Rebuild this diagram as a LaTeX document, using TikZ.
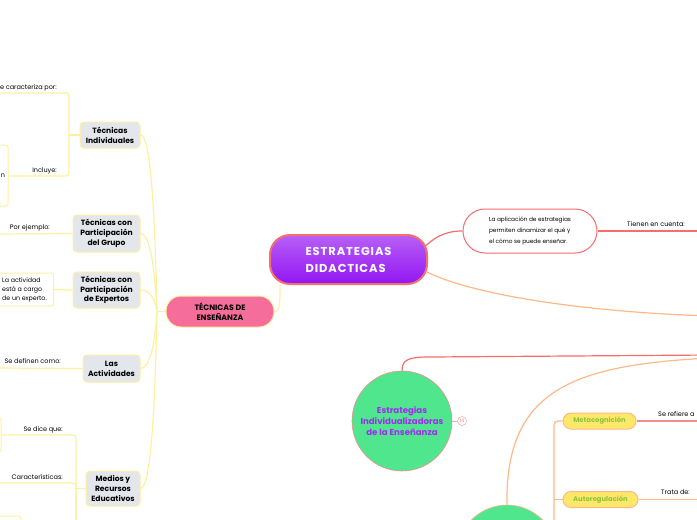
\documentclass[tikz,border=0pt]{standalone}
\usepackage{fontspec}
\setmainfont{Poppins}
\newfontfamily\widefont[LetterSpace=8]{Poppins}
\usetikzlibrary{positioning}
\definecolor{ylw}{HTML}{FFF0A0}
\definecolor{rd}{HTML}{F56E6E}
\definecolor{org}{HTML}{FFB888}
\definecolor{tgray}{HTML}{E3E6EA}
\definecolor{pnk}{HTML}{F46D9B}
\definecolor{grn}{HTML}{50E68E}
\definecolor{prp}{HTML}{9F2CF2}
\definecolor{olv}{HTML}{8CC43C}
\definecolor{mtyel}{HTML}{FFE869}
\definecolor{estrtop}{HTML}{B85FF7}
\definecolor{estrbot}{HTML}{9216F2}
\tikzset{
  ylwline/.style={draw=ylw, line width=1.2pt},
  rdline/.style={draw=rd, line width=1.2pt},
  orgline/.style={draw=org, line width=1.2pt},
  tecbox/.style={draw=ylw, fill=tgray, line width=1pt, rounded corners=4pt,
    align=center, inner sep=0pt, font=\fontsize{7.6}{9.8}\selectfont\bfseries},
  labeltxt/.style={inner sep=0pt, font=\fontsize{6.5}{8}\selectfont},
  leafbox/.style={draw=ylw, fill=white, line width=1pt, rounded corners=2pt, inner sep=0pt},
  pillbox/.style={draw=org, fill=mtyel, line width=1pt, rounded corners=8pt,
    inner sep=0pt, minimum height=16pt, text=olv, font=\fontsize{6.8}{8}\selectfont\bfseries},
  roundnode/.style={circle, fill=grn, minimum size=100pt, inner sep=0pt, align=center,
    text=prp, font=\fontsize{8.6}{10.8}\selectfont\bfseries}
}
\begin{document}
\begin{tikzpicture}[x=1pt, y=-1pt]
\clip (0,0) rectangle (697,520);
\fill[white] (0,0) rectangle (697,520);
% main nodes
\node[draw=rd, line width=2pt, top color=estrtop, bottom color=estrbot,
  rounded corners=20pt, minimum width=157pt, minimum height=49pt, inner sep=0pt,
  text=white, align=left, font=\fontsize{11.5}{17}\widefont\bfseries] (estr) at (348.5,259.5) {ESTRATEGIAS\\DIDACTICAS};
\node[draw=ylw, fill=pnk, line width=1pt, rounded corners=15pt, minimum width=108pt, minimum height=31pt,
  align=center, inner sep=0pt, font=\fontsize{7.8}{10}\selectfont\bfseries] (tecn) at (220,311.5) {TÉCNICAS DE\\ENSEÑANZA};
\node[draw=rd, fill=white, line width=1pt, rounded corners=22pt, minimum width=134pt, minimum height=44pt,
  inner sep=0pt, align=left, font=\fontsize{5.8}{11.3}\selectfont] (aplic) at (530,231) {La aplicación de estrategias\\permiten dinamizar el qué y\\el cómo se puede enseñar.};

% tecnicas
\node[tecbox, minimum width=60pt, minimum height=26pt] (indiv) at (110,135) {Técnicas\\Individuales};
\node[tecbox, minimum width=67pt, minimum height=37pt] (grupo) at (106.5,233.5) {Técnicas con\\Participación\\del Grupo};
\node[tecbox, minimum width=67pt, minimum height=36pt] (exper) at (106.5,290) {Técnicas con\\Participación\\de Expertos};
\node[tecbox, minimum width=57pt, minimum height=27pt] (activ) at (111.5,368.5) {Las\\Actividades};
\node[tecbox, minimum width=54pt, minimum height=35pt] (medio) at (113,488.5) {Medios y\\Recursos\\Educativos};

\coordinate (hub) at (157,311.5);
\draw[ylwline] (estr.south west) ++(11,0) coordinate (estrsw);
\draw[ylwline] (estrsw) .. controls +(0,14) and +(6,0) .. (tecn.east);
\draw[ylwline] (tecn.west) -- (hub);
\draw[ylwline] (indiv.east) .. controls +(10,0) and +(-2,-100) .. (hub);
\draw[ylwline] (grupo.east) .. controls +(10,0) and +(-2,-40) .. (hub);
\draw[ylwline] (exper.east) .. controls +(10,0) and +(-2,-12) .. (hub);
\draw[ylwline] (activ.east) .. controls +(10,0) and +(-2,30) .. (hub);
\draw[ylwline] (medio.east) .. controls +(10,0) and +(-2,100) .. (hub);

% individuales
\coordinate (indtop) at (-5,93);
\coordinate (indbot) at (69,176);
\node[leafbox, minimum width=70pt, minimum height=61pt, text width=64pt, align=right,
  font=\fontsize{6.5}{8}\selectfont] (incbox) at (-27,175.5) {n};
\draw[ylwline, rounded corners=3pt] (indtop) -| (indbot) -- (incbox.east |- indbot);
\draw[ylwline] (indiv.west) -- (indiv.west -| indbot);
\node[labeltxt, anchor=base east] at (57,89) {Se caracteriza por:};
\node[labeltxt, anchor=base east] at (57,172) {Incluye:};

% grupo, expertos, actividades
\coordinate (grpend) at (-5,234);
\draw[ylwline] (grupo.west) -- (grpend);
\node[labeltxt, anchor=base east] at (50,229) {Por ejemplo:};
\node[leafbox, minimum width=58pt, minimum height=33pt, align=left, inner sep=0pt,
  font=\fontsize{6.3}{9}\selectfont] (expbox) at (24.5,289.5) {La actividad\\está a cargo\\de un experto.};
\draw[ylwline] (exper.west) -- (expbox.east);
\coordinate (actend) at (-5,368);
\draw[ylwline] (activ.west) -- (actend);
\node[labeltxt, anchor=base east] at (61,363.5) {Se definen como:};

% medios
\node[leafbox, minimum width=40pt, minimum height=34pt] (dicebox) at (-19,435) {};
\node[leafbox, minimum width=40pt, minimum height=34pt] (carbox) at (0.5,533) {};
\coordinate (medbr) at (76,530);
\coordinate (carend) at (-5,483);
\draw[ylwline, rounded corners=3pt] (dicebox.east) -| (medbr);
\draw[ylwline, rounded corners=3pt] (carend) -| (medbr);
\draw[ylwline] (medio.west) -- (medio.west -| medbr);
\node[labeltxt, anchor=base east] at (63,431) {Se dice que:};
\node[labeltxt, anchor=base east] at (63,479) {Características:};

% right side
\coordinate (aplend) at (710,231);
\coordinate (orgend) at (710,316);
\draw[rdline] ([xshift=-4pt,yshift=12pt]estr.east) .. controls +(14,-14) and +(-12,0) .. (aplic.west);
\draw[rdline] (aplic.east) -- (aplend);
\node[labeltxt, anchor=base west] at (627,226) {Tienen en cuenta:};
\draw[orgline] ([xshift=-2pt,yshift=-12pt]estr.east) .. controls +(45,23) and +(-127,-4) .. (orgend);

% estrategias individualizadoras
\node[roundnode, draw=rd!80, line width=0.6pt] (indz) at (402,421) {Estrategias\\Individualizadoras\\de la Enseñanza};
\node[circle, draw=rd!60, fill=white, line width=0.5pt, minimum size=9pt, inner sep=0pt,
  text=rd!80, font=\fontsize{5}{5}\selectfont] (cnt) at (462,421) {14};
\draw[rdline, draw=rd!60, line width=0.6pt] (indz.east) -- (cnt.west);
\coordinate (rdend) at (710,355);
\draw[rdline] (indz.north) .. controls +(0,-12) and +(-20,0) .. (430,357) -- (rdend);

\node[roundnode, draw=org, line width=0.6pt] (autoc) at (507,555) {};
\coordinate (autend) at (710,358);
\draw[orgline] (autoc.north) .. controls +(-2,-115) and +(-137,7) .. (autend);

\node[pillbox, minimum width=73pt] (meta) at (599.5,421) {Metacognición};
\node[pillbox, minimum width=75pt] (autor) at (600.5,499.5) {Autoregulación};
\coordinate (metabr) at (554,530);
\draw[orgline, rounded corners=4pt] (meta.west) -| (metabr);
\draw[orgline, rounded corners=4pt] (autor.west) -- (autor.west -| metabr);
\coordinate (metaend) at (710,421);
\coordinate (autend2) at (710,499.5);
\draw[rdline, draw=rd!80, line width=1.5pt] (meta.east) -- (metaend);
\draw[orgline] (autor.east) -- (autend2);
\node[labeltxt, anchor=base west] at (658,416) {Se refiere a};
\node[labeltxt, anchor=base west] at (661,494) {Trata de:};
\end{tikzpicture}
\end{document}
